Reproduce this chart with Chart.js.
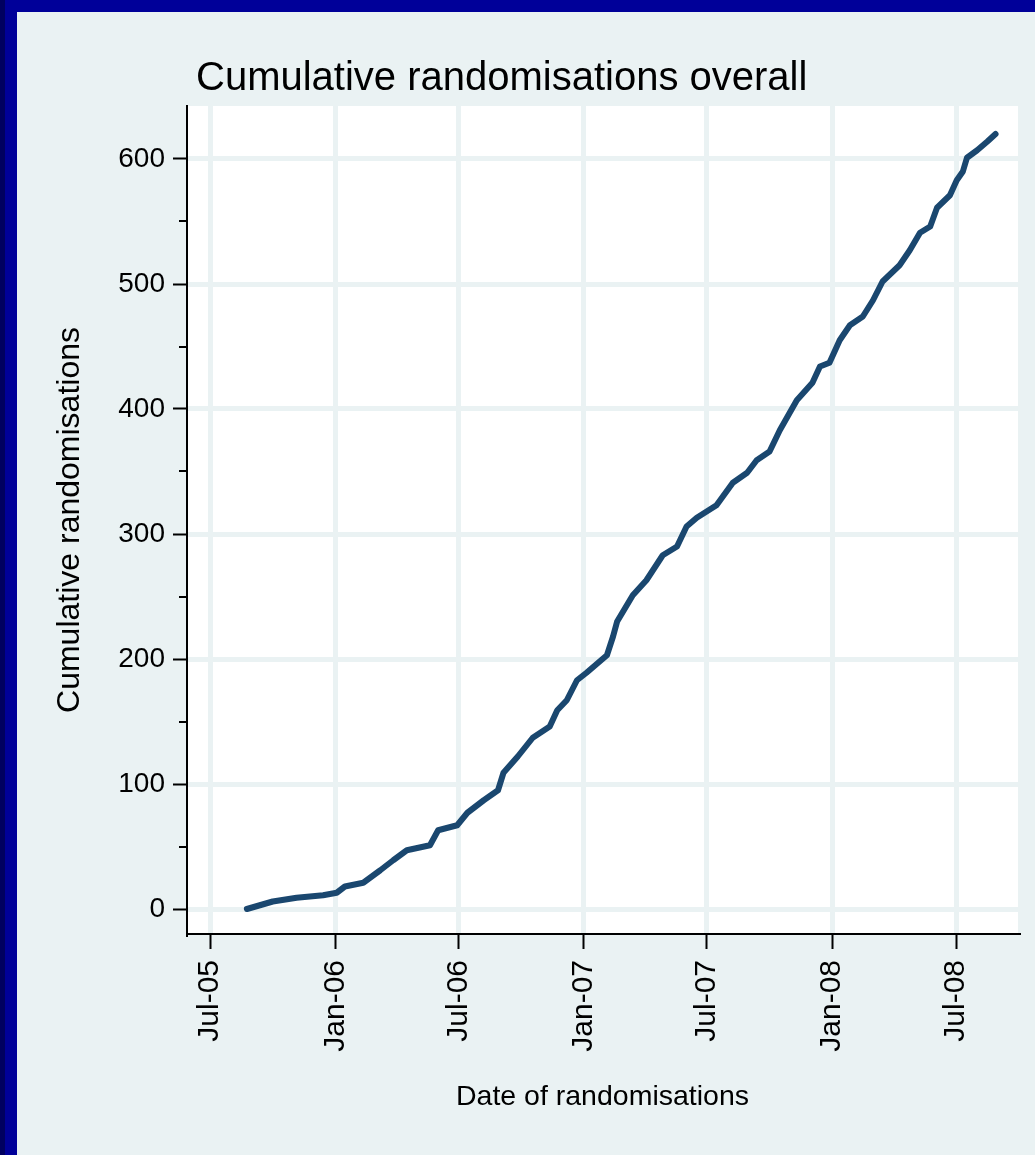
<!DOCTYPE html>
<html>
<head>
<meta charset="utf-8">
<script src="https://cdn.jsdelivr.net/npm/chart.js@4/dist/chart.umd.min.js"></script>
<style>
  html, body { margin: 0; padding: 0; background: #000099; }
  #wrap { width: 1035px; height: 1155px; position: relative; }
  canvas { display: block; }
</style>
</head>
<body>
<div id="wrap"><canvas id="c" width="1035" height="1155"></canvas></div>
<script>
// ---- Data ----
const TITLE = 'Cumulative randomisations overall';
const X_TITLE = 'Date of randomisations';
const Y_TITLE = 'Cumulative randomisations';

const DATES = [
  '2005-08-24','2005-09-12','2005-10-01','2005-11-05','2005-12-14',
  '2006-01-03','2006-01-15','2006-02-11','2006-03-08','2006-03-27',
  '2006-04-16','2006-05-20','2006-06-01','2006-06-29','2006-07-14',
  '2006-08-07','2006-08-28','2006-09-05','2006-09-26','2006-10-18',
  '2006-11-12','2006-11-23','2006-12-07','2006-12-22','2007-01-05',
  '2007-02-04','2007-02-13','2007-02-19','2007-03-14','2007-04-03',
  '2007-04-27','2007-05-18','2007-06-01','2007-06-16','2007-07-15',
  '2007-08-08','2007-08-29','2007-09-12','2007-10-01','2007-10-16',
  '2007-11-10','2007-12-03','2007-12-14','2007-12-28','2008-01-12',
  '2008-01-27','2008-02-15','2008-03-01','2008-03-15','2008-04-09',
  '2008-04-24','2008-05-09','2008-05-24','2008-06-03','2008-06-22',
  '2008-07-02','2008-07-11','2008-07-17','2008-08-01','2008-08-16',
  '2008-08-28'
];
const COUNTS = [
  0, 3, 6, 9, 11,
  13, 18, 21, 31, 39,
  47, 51, 63, 67, 77,
  87, 95, 109, 122, 137,
  146, 159, 167, 183, 189,
  203, 218, 230, 251, 263,
  283, 290, 306, 313, 323,
  341, 349, 359, 366, 383,
  407, 421, 434, 437, 455,
  467, 474, 487, 502, 515,
  527, 541, 546, 561, 571,
  583, 590, 601, 607, 614,
  620
];

const X_TICK_DATES = ['2005-07-01','2006-01-01','2006-07-01','2007-01-01','2007-07-01','2008-01-01','2008-07-01'];
const X_TICK_LABELS = ['Jul-05','Jan-06','Jul-06','Jan-07','Jul-07','Jan-08','Jul-08'];
const X_RANGE = ['2005-05-28','2008-09-30'];
const Y_TICKS = [0, 100, 200, 300, 400, 500, 600];
const Y_MINOR_TICKS = [50, 150, 250, 350, 450, 550];
const Y_RANGE = [-20, 642.4];

// ---- helpers ----
const toMs = s => { const [y, m, d] = s.split('-').map(Number); return Date.UTC(y, m - 1, d); };
const xTickValues = X_TICK_DATES.map(toMs);
const points = DATES.map((d, i) => ({ x: toMs(d), y: COUNTS[i] }));

const FONT = '"Liberation Sans", Arial, sans-serif';
const PANEL = '#eaf2f3';

const framePlugin = {
  id: 'frame',
  beforeDraw(chart) {
    const { ctx, width, height, chartArea: a } = chart;
    ctx.save();
    ctx.fillStyle = '#000099';
    ctx.fillRect(0, 0, width, height);
    ctx.fillStyle = '#000060';
    ctx.fillRect(0, 0, 5, height);
    ctx.fillStyle = PANEL;
    ctx.fillRect(17, 12, width - 17, height - 12);
    ctx.fillStyle = '#ffffff';
    ctx.fillRect(a.left, a.top, a.right - a.left, a.bottom - a.top);
    ctx.restore();
  },
  afterDraw(chart) {
    const { ctx, chartArea: a } = chart;
    const ys = chart.scales.y;
    ctx.save();
    // minor ticks on y axis
    ctx.strokeStyle = '#000';
    ctx.lineWidth = 2;
    Y_MINOR_TICKS.forEach(v => {
      const py = Math.round(ys.getPixelForValue(v));
      ctx.beginPath();
      ctx.moveTo(a.left - 8, py);
      ctx.lineTo(a.left, py);
      ctx.stroke();
    });
    // title
    ctx.fillStyle = '#000';
    ctx.font = '40px ' + FONT;
    ctx.textBaseline = 'alphabetic';
    ctx.textAlign = 'left';
    ctx.fillText(TITLE, a.left + 9, 90);
    ctx.restore();
  }
};

new Chart(document.getElementById('c'), {
  type: 'line',
  data: {
    datasets: [{
      data: points,
      borderColor: '#1a476f',
      backgroundColor: '#1a476f',
      borderWidth: 6,
      pointRadius: 0,
      tension: 0,
      fill: false,
      borderJoinStyle: 'round',
      borderCapStyle: 'round'
    }]
  },
  options: {
    responsive: false,
    animation: false,
    devicePixelRatio: 1,
    layout: { padding: { left: 17, right: 17, top: 106, bottom: 0 } },
    plugins: { legend: { display: false }, tooltip: { enabled: false }, title: { display: false } },
    scales: {
      x: {
        type: 'linear',
        min: toMs(X_RANGE[0]),
        max: toMs(X_RANGE[1]),
        afterBuildTicks: s => { s.ticks = xTickValues.map(v => ({ value: v })); },
        afterFit: s => { s.height = 221; },
        grid: { color: PANEL, lineWidth: 5, tickColor: '#000', tickWidth: 2, tickLength: 15, drawTicks: true },
        border: { display: true, color: '#000', width: 2 },
        ticks: {
          autoSkip: false, minRotation: 90, maxRotation: 90, padding: 11,
          color: '#000', font: { family: FONT, size: 30 },
          callback: v => { const i = xTickValues.indexOf(v); return i >= 0 ? X_TICK_LABELS[i] : ''; }
        },
        title: { display: true, text: X_TITLE, color: '#000', font: { family: FONT, size: 28.5 }, padding: { top: 0, bottom: 41 } }
      },
      y: {
        type: 'linear',
        min: Y_RANGE[0],
        max: Y_RANGE[1],
        afterBuildTicks: s => { s.ticks = Y_TICKS.map(v => ({ value: v })); },
        afterFit: s => { s.width = 170; },
        grid: { color: PANEL, lineWidth: 5, tickColor: '#000', tickWidth: 2, tickLength: 14, drawTicks: true },
        border: { display: true, color: '#000', width: 2 },
        ticks: { padding: 8, color: '#000', font: { family: FONT, size: 28 }, callback: v => String(v) },
        title: { display: true, text: Y_TITLE, color: '#000', font: { family: FONT, size: 32 }, padding: { top: 34, bottom: 0 } }
      }
    }
  },
  plugins: [framePlugin]
});
</script>
</body>
</html>
